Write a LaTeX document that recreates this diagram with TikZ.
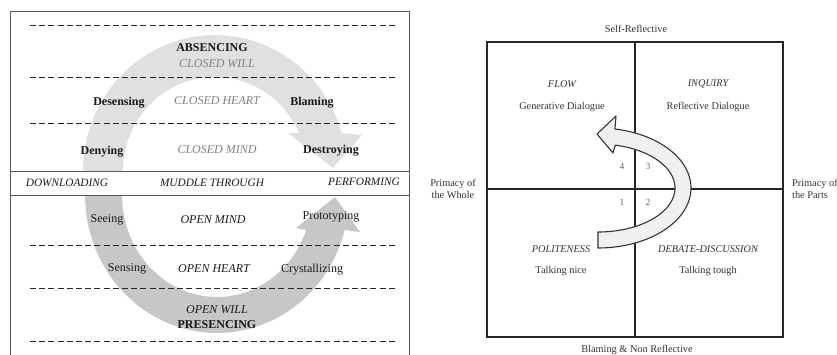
\documentclass[tikz,border=0pt]{standalone}
\usepackage{fontspec}
\setmainfont{Liberation Serif}
\begin{document}
\begin{tikzpicture}[x=1pt,y=-1pt,
  lt/.style={font=\fontsize{12}{14}\selectfont, inner sep=0pt, text=black!90},
  lb/.style={lt, font=\fontsize{12}{14}\selectfont\bfseries},
  lcg/.style={lt, font=\fontsize{12}{14}\selectfont\itshape, text=black!50},
  lci/.style={lt, font=\fontsize{12}{14}\selectfont\itshape},
  band/.style={lt, font=\fontsize{11.3}{13}\selectfont\itshape},
  rt/.style={font=\fontsize{10.3}{12}\selectfont, inner sep=0pt, text=black!80},
  rti/.style={rt, font=\fontsize{10.3}{12}\selectfont\itshape},
  num/.style={rt, font=\fontsize{9.5}{11}\selectfont, text=black!60},
  dashline/.style={draw=black!85, line width=0.8pt, dash pattern=on 6pt off 3.2pt},
  frameline/.style={draw=black!65, line width=0.9pt},
  quadline/.style={draw=black!85, line width=1.3pt},
  uparrow/.style={fill=black!12},
  lowarrow/.style={fill=black!22},
  cshape/.style={draw=black!80, line width=1.1pt, fill=black!6, line join=round}
]
\useasboundingbox (0,0) rectangle (837,354);

% ---------------- left panel ----------------
% upper grey arrow (clockwise, over the top)
\fill[uparrow] plot[domain=180:343.8, samples=60] ({215+132*cos(\x)},{171+136*sin(\x)})
  -- (362,135) -- (333,168) -- (288,133)
  -- plot[domain=336.15:180, samples=60] ({215+92*cos(\x)},{171+94*sin(\x)}) -- cycle;
% lower grey arrow (counter-clockwise, under the bottom)
\fill[lowarrow] plot[domain=180:14.7, samples=60] ({217+132*cos(\x)},{195+138*sin(\x)})
  -- (360,232) -- (335,197) -- (296,228)
  -- plot[domain=20.07:180, samples=60] ({217+95*cos(\x)},{195+102*sin(\x)}) -- cycle;

% frame and middle band
\coordinate (lTL) at (10,11);
\coordinate (lTR) at (409,11);
\coordinate (lBL) at (10,360);
\coordinate (lBR) at (409,360);
\draw[frameline] (lBL) -- (lTL) -- (lTR) -- (lBR);
\coordinate (bTL) at (10,171);
\coordinate (bTR) at (409,171);
\coordinate (bBL) at (10,195);
\coordinate (bBR) at (409,195);
\draw[frameline] (bTL) -- (bTR);
\draw[frameline] (bBL) -- (bBR);

% dashed separators
\foreach \yy/\nm in {25/d1,77/d2,123/d3,245/d4,288/d5,341/d6}{
  \coordinate (\nm a) at (30,\yy);
  \coordinate (\nm b) at (397,\yy);
  \draw[dashline] (\nm a) -- (\nm b);
}

% texts upper part
\node[lb] (absencing) at (212,48) {ABSENCING};
\node[lcg] (cwill) at (217,64) {CLOSED WILL};
\node[lb] (desensing) at (119,103) {Desensing};
\node[lcg] (cheart) at (217,101) {CLOSED HEART};
\node[lb] (blaming) at (312,103) {Blaming};
\node[lb] (denying) at (102,152) {Denying};
\node[lcg] (cmind) at (217,150) {CLOSED MIND};
\node[lb] (destroying) at (331,151) {Destroying};
% band
\node[band] (download) at (67,183) {DOWNLOADING};
\node[band] (muddle) at (212,183) {MUDDLE THROUGH};
\node[band] (perform) at (364,182) {PERFORMING};
% lower part
\node[lt] (seeing) at (107,220) {Seeing};
\node[lci] (omind) at (213,220) {OPEN MIND};
\node[lt] (proto) at (331,217) {Prototyping};
\node[lt] (sensing) at (127,269) {Sensing};
\node[lci] (oheart) at (214,269) {OPEN HEART};
\node[lt] (crystal) at (312,270) {Crystallizing};
\node[lci] (owill) at (217,310) {OPEN WILL};
\node[lb] (presencing) at (217,325) {PRESENCING};

% ---------------- right panel ----------------
\coordinate (qTL) at (487,42);
\coordinate (qTR) at (783,42);
\coordinate (qBL) at (487,337);
\coordinate (qBR) at (783,337);
\coordinate (qT) at (635,42);
\coordinate (qB) at (635,337);
\coordinate (qL) at (487,189);
\coordinate (qR) at (783,189);
\draw[quadline] (qTL) rectangle (qBR);
\draw[quadline] (qT) -- (qB);
\draw[quadline] (qL) -- (qR);

% curved outlined arrow
\draw[cshape] plot[domain=90:-79.5, samples=60] ({598+93*cos(\x)},{188+60*sin(\x)})
  -- (616,116) -- (597,134) -- (613,153)
  -- plot[domain=-77:90, samples=60] ({598+77*cos(\x)},{188+44*sin(\x)}) -- cycle;

\node[rt] (selfref) at (636,29) {Self-Reflective};
\node[rt] (blamenr) at (637,350) {Blaming \& Non Reflective};
\node[rt, align=center] (whole) at (453,188.5) {Primacy of\\the Whole};
\node[rt, align=left, anchor=west] (parts) at (792,188.5) {Primacy of\\the Parts};

\node[rti] (flow) at (562,84) {FLOW};
\node[rt] (gendia) at (562,107) {Generative Dialogue};
\node[rti] (inquiry) at (708,84) {INQUIRY};
\node[rt] (refdia) at (708,107) {Reflective Dialogue};
\node[rti] (polite) at (561,249) {POLITENESS};
\node[rt] (nice) at (561,271) {Talking nice};
\node[rti] (debate) at (708,249) {DEBATE-DISCUSSION};
\node[rt] (tough) at (708,271) {Talking tough};

\node[num] (n4) at (622,166) {4};
\node[num] (n3) at (648,166) {3};
\node[num] (n1) at (622,202) {1};
\node[num] (n2) at (648,202) {2};
\end{tikzpicture}
\end{document}
